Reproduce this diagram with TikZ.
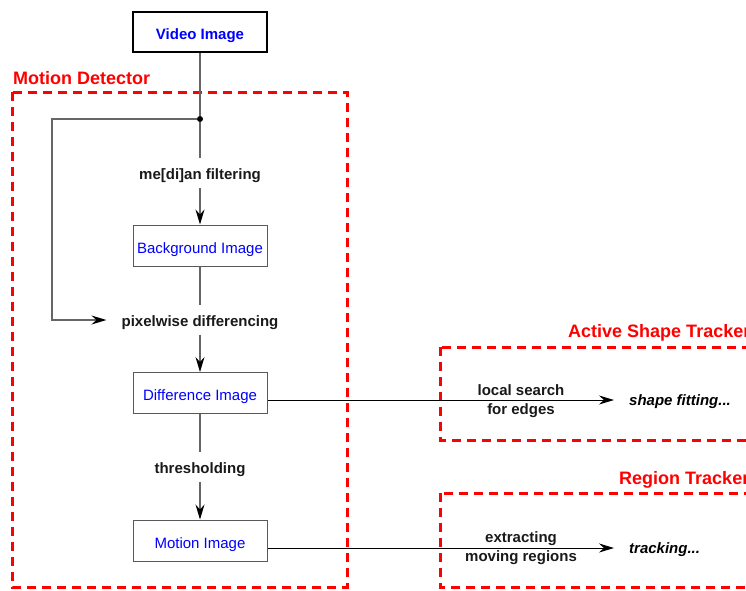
\documentclass[tikz,border=0pt]{standalone}
\usepackage{fontspec}
\setmainfont{Liberation Sans}
\usetikzlibrary{arrows.meta}

\tikzset{
  imgbox/.style={draw=black!65, line width=1pt, minimum width=134pt, minimum height=41pt,
    inner sep=0pt, text height=15.5pt, text depth=0pt, text=blue,
    font=\fontsize{15}{18}\selectfont},
  stepname/.style={inner xsep=15pt, inner ysep=8.5pt, text height=12pt, text depth=0pt,
    text=black!90, font=\fontsize{15}{19}\selectfont\bfseries},
  linkname/.style={inner sep=0pt, text=black!90, align=center,
    font=\fontsize{15}{19}\selectfont\bfseries},
  result/.style={anchor=west, inner xsep=15pt, inner ysep=0pt, text height=10.5pt, text depth=0pt,
    font=\fontsize{15}{18}\selectfont\bfseries\itshape},
  tracker/.style={draw=red, line width=3pt, dash pattern=on 9pt off 6pt},
  trackername/.style={anchor=west, inner sep=0pt, text=red,
    font=\fontsize{18}{21}\selectfont\bfseries},
  flow/.style={draw=black!60, line width=1.2pt},
}

\begin{document}
\begin{tikzpicture}[x=1pt, y=-1pt, >={Stealth[length=15pt,width=9pt,inset=5pt,color=black]}]
        \clip (0,0) rectangle (746,590);
        % Khung các bộ phận
        \draw[tracker] (12,92) rectangle (347,587);
        \draw[tracker] (440,347) rectangle (780,440);
        \draw[tracker] (440,493) rectangle (780,587);
        \node[trackername] (mdname) at (13,78) {Motion Detector};
        \node[trackername] (asname) at (568,333) {Active Shape Tracker};
        \node[trackername] (rtname) at (619,480) {Region Tracker};
        % Các ảnh
        \node[imgbox, draw=black, line width=2.8pt, minimum height=40pt,
              font=\fontsize{15}{18}\selectfont\bfseries] (vid) at (200,32) {Video Image};
        \node[imgbox] (bg) at (200,245.5) {Background Image};
        \node[imgbox] (diff) at (200,393) {Difference Image};
        \node[imgbox] (mot) at (200,540.5) {Motion Image};
        % Các bước xử lý
        \node[circle, fill, inner sep=0pt, minimum size=6pt] (dot) at (200,119) {};
        \node[stepname] (med) at (200,173) {me[di]an filtering};
        \node[stepname] (pix) at (200,320) {pixelwise differencing};
        \node[stepname] (thr) at (200,467) {thresholding};
        % Dòng chảy
        \draw[flow] (vid) -- (dot);
        \draw[flow] (dot) -- (med);
        \draw[flow, ->] (med) -- (bg);
        \draw[flow, ->] (dot) -- ++(-148,0) |- (pix.west);
        \draw[flow] (bg) -- (pix);
        \draw[flow, ->] (pix) -- (diff);
        \draw[flow] (diff) -- (thr);
        \draw[flow, ->] (thr) -- (mot);
        % Sang các bộ theo dõi
        \node[result] (fit) at (614,400) {shape fitting...};
        \node[result] (trk) at (614,548) {tracking...};
        \draw[line width=1pt, ->] (diff.east |- fit.west) -- (fit.west);
        \draw[line width=1pt, ->] (mot.east |- trk.west) -- (trk.west);
        \node[linkname] (edg) at (521,401.5) {local search\\for edges};
        \node[linkname] (mov) at (521,548.5) {extracting\\moving regions};
\end{tikzpicture}
\end{document}
